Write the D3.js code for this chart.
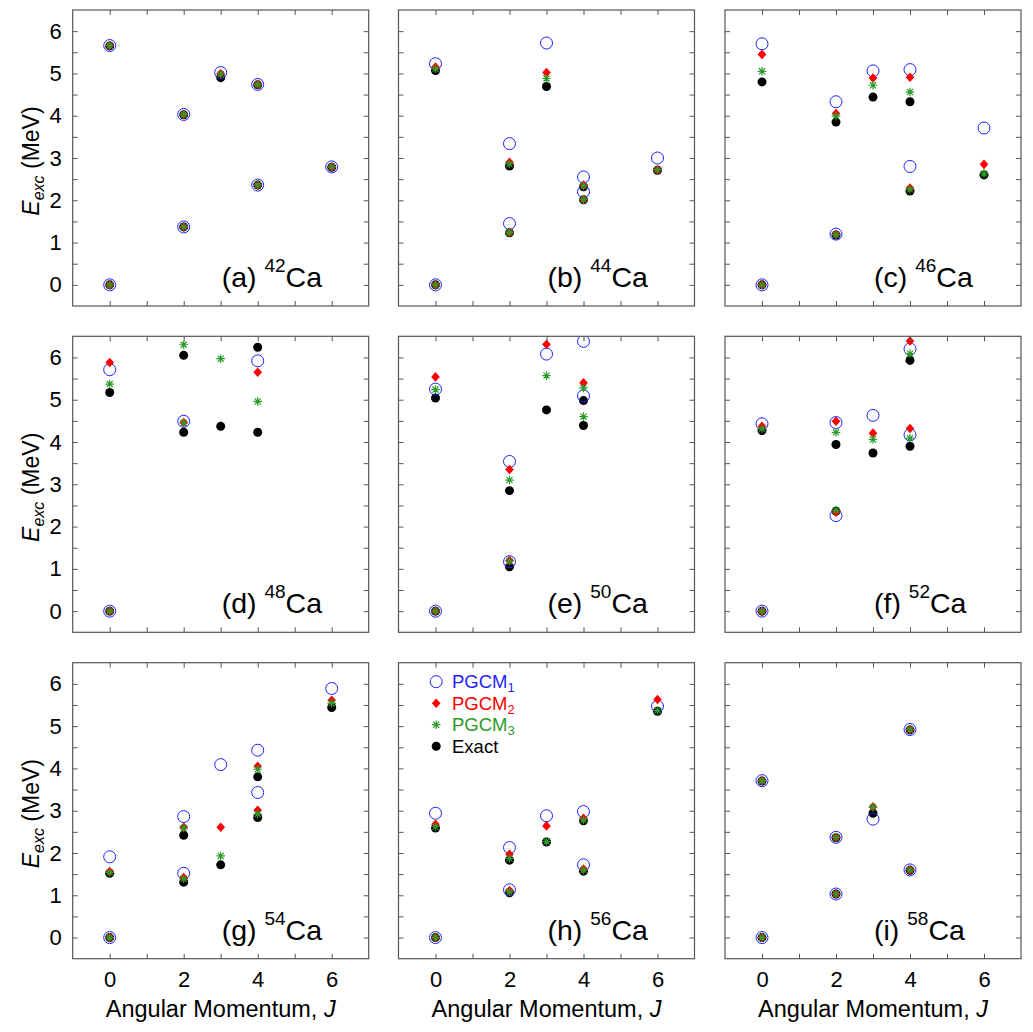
<!DOCTYPE html>
<html>
<head>
<meta charset="utf-8">
<script src="https://cdn.jsdelivr.net/npm/d3@7"></script>
<style>
  html, body { margin: 0; padding: 0; background: #fff; }
  svg { display: block; }
</style>
</head>
<body>
<svg id="chart" width="1033" height="1032"></svg>
<script>
// ---------------- data ----------------
const panelLetters = ["a", "b", "c", "d", "e", "f", "g", "h", "i"];
const massNumbers = ["42", "44", "46", "48", "50", "52", "54", "56", "58"];
const xTickValues = [0, 1, 2, 3, 4, 5, 6];
const xTickLabels = [0, 2, 4, 6];
const yTickValues = [0, 0.5, 1, 1.5, 2, 2.5, 3, 3.5, 4, 4.5, 5, 5.5, 6];
const yTickLabels = [0, 1, 2, 3, 4, 5, 6];
const seriesNames = ["PGCM", "PGCM", "PGCM", "Exact"];
const seriesSubs = ["1", "2", "3", ""];

// [J, E_exc] per panel (a..i)
const pgcm1 = [
  [[0,0],[0,5.66],[2,4.03],[2,1.37],[3,5.02],[4,4.74],[4,2.36],[6,2.79]],
  [[0,0],[0,5.23],[2,3.34],[2,1.45],[3,5.72],[4,2.55],[4,2.2],[6,3.0]],
  [[0,0],[0,5.7],[2,4.33],[2,1.2],[3,5.06],[4,5.09],[4,2.8],[6,3.71]],
  [[0,0],[0,5.71],[2,4.49],[4,5.92]],
  [[0,0],[0,5.25],[2,3.54],[2,1.17],[3,6.08],[4,6.38],[4,5.09]],
  [[0,0],[0,4.43],[2,4.46],[2,2.26],[3,4.63],[4,6.2],[4,4.17]],
  [[0,0],[0,1.91],[2,2.86],[2,1.52],[3,4.09],[4,4.43],[4,3.43],[6,5.89]],
  [[0,0],[0,2.94],[2,2.13],[2,1.13],[3,2.88],[4,2.98],[4,1.72],[6,5.47]],
  [[0,0],[0,3.71],[2,2.37],[2,1.03],[3,2.8],[4,4.92],[4,1.6]]
];
const pgcm2 = [
  [[0,0],[0,5.66],[2,4.03],[2,1.37],[3,5.0],[4,4.74],[4,2.36],[6,2.79]],
  [[0,0],[0,5.15],[2,2.9],[2,1.24],[3,5.02],[4,2.36],[4,2.02],[6,2.72]],
  [[0,0],[0,5.45],[2,4.05],[2,1.19],[3,4.89],[4,4.91],[4,2.29],[6,2.85]],
  [[0,0],[0,5.88],[2,4.46],[4,5.65]],
  [[0,0],[0,5.54],[2,3.35],[2,1.2],[3,6.31],[4,5.4]],
  [[0,0],[0,4.37],[2,4.49],[2,2.34],[3,4.21],[4,6.39],[4,4.32]],
  [[0,0],[0,1.56],[2,2.61],[2,1.42],[3,2.61],[4,4.05],[4,3.01],[6,5.61]],
  [[0,0],[0,2.68],[2,1.97],[2,1.11],[3,2.64],[4,2.82],[4,1.62],[6,5.63]],
  [[0,0],[0,3.71],[2,2.37],[2,1.03],[3,3.09],[4,4.92],[4,1.6]]
];
const pgcm3 = [
  [[0,0],[0,5.66],[2,4.03],[2,1.37],[3,4.98],[4,4.74],[4,2.36],[6,2.79]],
  [[0,0],[0,5.11],[2,2.86],[2,1.24],[3,4.88],[4,2.34],[4,2.02],[6,2.72]],
  [[0,0],[0,5.05],[2,3.99],[2,1.19],[3,4.72],[4,4.56],[4,2.26],[6,2.63]],
  [[0,0],[0,5.37],[2,6.3],[2,4.45],[3,5.97],[4,4.96]],
  [[0,0],[0,5.24],[2,3.1],[2,1.18],[3,5.57],[4,5.28],[4,4.6]],
  [[0,0],[0,4.31],[2,4.23],[2,2.39],[3,4.06],[4,6.09],[4,4.09]],
  [[0,0],[0,1.54],[2,2.59],[2,1.39],[3,1.93],[4,3.98],[4,2.92],[6,5.54]],
  [[0,0],[0,2.62],[2,1.87],[2,1.08],[3,2.27],[4,2.78],[4,1.6],[6,5.37]],
  [[0,0],[0,3.71],[2,2.37],[2,1.03],[3,3.08],[4,4.92],[4,1.6]]
];
const exact = [
  [[0,0],[0,5.65],[2,4.02],[2,1.37],[3,4.9],[4,4.73],[4,2.36],[6,2.78]],
  [[0,0],[0,5.07],[2,2.81],[2,1.23],[3,4.69],[4,2.32],[4,2.01],[6,2.71]],
  [[0,0],[0,4.8],[2,3.85],[2,1.18],[3,4.44],[4,4.33],[4,2.22],[6,2.6]],
  [[0,0],[0,5.17],[2,6.05],[2,4.23],[3,4.37],[4,6.24],[4,4.23]],
  [[0,0],[0,5.04],[2,2.85],[2,1.05],[3,4.76],[4,4.98],[4,4.39]],
  [[0,0],[0,4.27],[2,3.94],[2,2.36],[3,3.74],[4,5.93],[4,3.9]],
  [[0,0],[0,1.52],[2,2.42],[2,1.31],[3,1.72],[4,3.8],[4,2.84],[6,5.44]],
  [[0,0],[0,2.59],[2,1.83],[2,1.06],[3,2.26],[4,2.76],[4,1.57],[6,5.35]],
  [[0,0],[0,3.7],[2,2.36],[2,1.03],[3,2.94],[4,4.91],[4,1.59]]
];

// ---------------- layout ----------------
const FONT = "'Liberation Sans', Arial, Helvetica, sans-serif";
const colLeft = [72.7, 398.5, 725];
const rowTop = [10, 336.3, 662.7];
const PW = 296, PH = 296;
const BLUE = "#1f1fff", RED = "#ff0000", GREEN = "#2a9a2a", BLACK = "#000";

const svg = d3.select("#chart");
svg.append("rect").attr("width", 1033).attr("height", 1032).attr("fill", "#fff");

const x = d3.scaleLinear().domain([-1, 7]).range([0, PW]);
const y = d3.scaleLinear().domain([-0.5, 6.5]).range([PH, 0]);

const diamondPath = (r) => `M0,${-r}L${r*0.9},0L0,${r}L${-r*0.9},0Z`;
const starPath = (r) => {
  const a = r * 0.7071;
  return `M${-r},0L${r},0M0,${-r}L0,${r}M${-a},${-a}L${a},${a}M${-a},${a}L${a},${-a}`;
};

function drawMarkers(g, kind, pts) {
  if (kind === "exact") {
    g.selectAll(null).data(pts).enter().append("circle")
      .attr("cx", d => x(d[0])).attr("cy", d => y(d[1])).attr("r", 4.5)
      .attr("fill", BLACK);
  } else if (kind === "p1") {
    g.selectAll(null).data(pts).enter().append("circle")
      .attr("cx", d => x(d[0])).attr("cy", d => y(d[1])).attr("r", 6)
      .attr("fill", "none").attr("stroke", BLUE).attr("stroke-width", 1);
  } else if (kind === "p2") {
    g.selectAll(null).data(pts).enter().append("path")
      .attr("d", diamondPath(4.8))
      .attr("transform", d => `translate(${x(d[0])},${y(d[1])})`)
      .attr("fill", RED);
  } else {
    g.selectAll(null).data(pts).enter().append("path")
      .attr("d", starPath(4.3))
      .attr("transform", d => `translate(${x(d[0])},${y(d[1])})`)
      .attr("fill", "none").attr("stroke", GREEN).attr("stroke-width", 1.2);
  }
}

function styleAxis(ax) {
  ax.select(".domain").remove();
  ax.selectAll(".tick line").attr("stroke", "#555").attr("stroke-width", 1);
  ax.selectAll("text").attr("font-family", FONT).attr("font-size", 22).attr("fill", "#000");
}

panelLetters.forEach((letter, i) => {
  const col = i % 3, row = Math.floor(i / 3);
  const g = svg.append("g").attr("transform", `translate(${colLeft[col]},${rowTop[row]})`);

  // markers (clipped)
  const clipId = "clip" + i;
  g.append("clipPath").attr("id", clipId).append("rect")
    .attr("width", PW).attr("height", PH);
  const mg = g.append("g").attr("clip-path", `url(#${clipId})`);
  drawMarkers(mg.append("g"), "exact", exact[i]);
  drawMarkers(mg.append("g"), "p1", pgcm1[i]);
  drawMarkers(mg.append("g"), "p2", pgcm2[i]);
  drawMarkers(mg.append("g"), "p3", pgcm3[i]);

  // axes (inward ticks)
  const bx = g.append("g").attr("transform", `translate(0,${PH})`)
    .call(d3.axisBottom(x).tickValues(xTickValues).tickSize(-5).tickPadding(13)
      .tickFormat(d => (row === 2 && xTickLabels.includes(d)) ? d : ""));
  styleAxis(bx);
  const tx = g.append("g")
    .call(d3.axisTop(x).tickValues(xTickValues).tickSize(-5).tickFormat(""));
  styleAxis(tx);
  const ly = g.append("g")
    .call(d3.axisLeft(y).tickValues(yTickValues).tickSize(-5).tickPadding(11)
      .tickFormat(d => (col === 0 && yTickLabels.includes(d)) ? d : ""));
  styleAxis(ly);
  const ry = g.append("g").attr("transform", `translate(${PW},0)`)
    .call(d3.axisRight(y).tickValues(yTickValues).tickSize(-5).tickFormat(""));
  styleAxis(ry);

  // frame
  g.append("rect").attr("width", PW).attr("height", PH)
    .attr("fill", "none").attr("stroke", "#555").attr("stroke-width", 1.2);

  // panel label
  const lt = g.append("text").attr("x", 149).attr("y", 277)
    .attr("font-family", FONT).attr("font-size", 28.5).attr("fill", "#000");
  lt.append("tspan").text(`(${letter}) `);
  lt.append("tspan").attr("font-size", 19).attr("dy", -15).text(massNumbers[i]);
  lt.append("tspan").attr("dy", 15).text("Ca");

  // y label
  if (col === 0) {
    const yl = g.append("text")
      .attr("transform", `translate(${39 - colLeft[0]},${PH / 2 + 3}) rotate(-90)`)
      .attr("text-anchor", "middle").attr("font-family", FONT).attr("font-size", 23)
      .attr("fill", "#000");
    yl.append("tspan").attr("font-style", "italic").text("E");
    yl.append("tspan").attr("font-style", "italic").attr("font-size", 16).attr("dy", 5).text("exc");
    yl.append("tspan").attr("dy", -5).text(" (MeV)");
  }
  // x label
  if (row === 2) {
    const xl = g.append("text").attr("x", PW / 2).attr("y", PH + 58)
      .attr("text-anchor", "middle").attr("font-family", FONT).attr("font-size", 23.5)
      .attr("fill", "#000");
    xl.append("tspan").text("Angular Momentum, ");
    xl.append("tspan").attr("font-style", "italic").text("J");
  }

  // legend in panel (h)
  if (i === 7) {
    const kinds = ["p1", "p2", "p3", "exact"];
    const colors = [BLUE, RED, GREEN, BLACK];
    kinds.forEach((k, j) => {
      const cy = 19 + j * 21.5;
      const lg = g.append("g").attr("transform", `translate(37.7,${cy})`);
      if (k === "p1") lg.append("circle").attr("r", 6).attr("fill", "none").attr("stroke", BLUE);
      if (k === "p2") lg.append("path").attr("d", diamondPath(4.8)).attr("fill", RED);
      if (k === "p3") lg.append("path").attr("d", starPath(4.3)).attr("fill", "none").attr("stroke", GREEN).attr("stroke-width", 1.2);
      if (k === "exact") lg.append("circle").attr("r", 4.5).attr("fill", BLACK);
      const t = g.append("text").attr("x", 53.5).attr("y", cy + 6.5)
        .attr("font-family", FONT).attr("font-size", 18.5).attr("fill", colors[j]);
      t.append("tspan").text(seriesNames[j]);
      if (seriesSubs[j]) t.append("tspan").attr("font-size", 13).attr("dy", 4).text(seriesSubs[j]);
    });
  }
});
</script>
</body>
</html>
